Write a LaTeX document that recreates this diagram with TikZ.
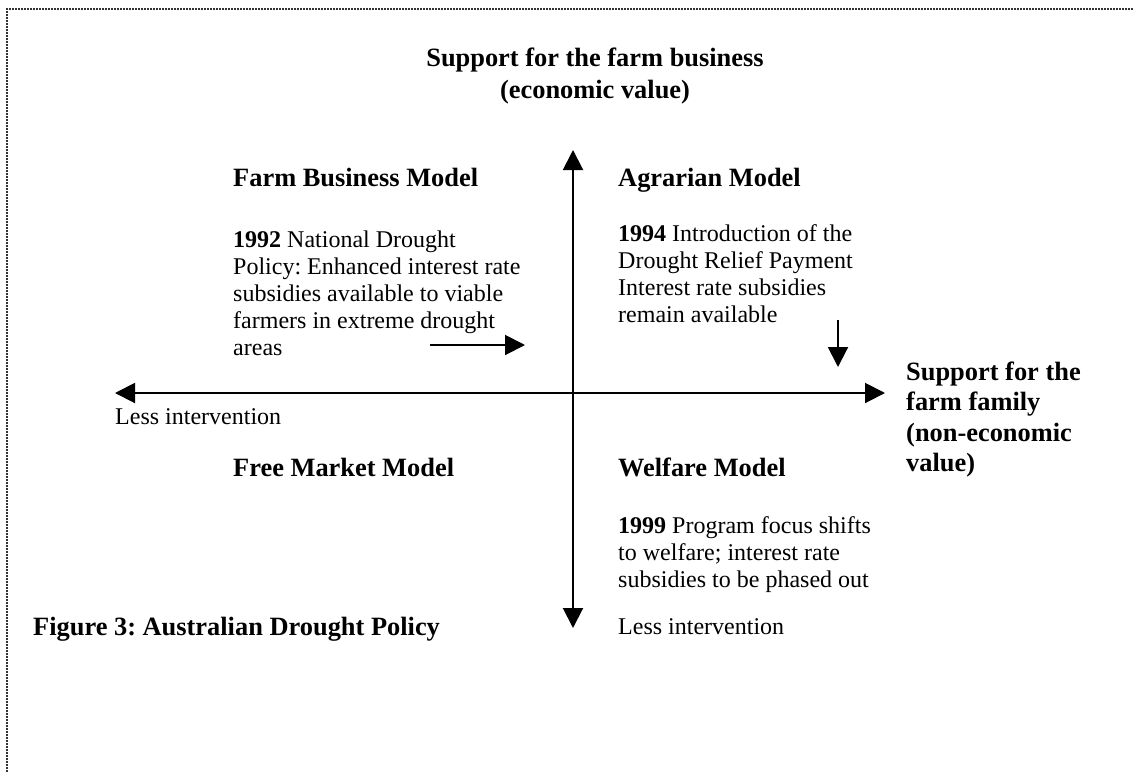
\documentclass[tikz,border=0pt]{standalone}
\usepackage{fontspec}
\setmainfont{Liberation Serif}
\usetikzlibrary{arrows.meta}
\frenchspacing
\begin{document}
\begin{tikzpicture}[x=1pt,y=-1pt,
  font=\fontsize{24}{27}\selectfont,
  para/.style={inner sep=0pt, anchor=north west, align=left, font=\fontsize{24}{27}\selectfont},
  hd/.style={inner sep=0pt, anchor=base west, font=\fontsize{26.4}{31}\selectfont\bfseries},
  txt/.style={inner sep=0pt, anchor=base west, font=\fontsize{24}{27}\selectfont},
  axis/.style={line width=2pt, {Triangle[length=20pt,width=20pt]}-{Triangle[length=20pt,width=20pt]}},
  shiftarrow/.style={line width=2pt, -{Triangle[length=20pt,width=20pt]}}]
\useasboundingbox (0,0) rectangle (1134,772);
% frame
\draw[line width=2pt, black!80, dash pattern=on 2pt off 1pt] (7,772) -- (7,9) -- (1134,9);

% axes
\coordinate (vtop) at (573,150);
\coordinate (vbot) at (573,628);
\coordinate (hleft) at (115,393);
\coordinate (hright) at (885,393);
\draw[axis] (vbot) -- (vtop);
\draw[axis] (hleft) -- (hright);

% title
\node[inner sep=0pt, anchor=north, align=center, font=\fontsize{26.4}{32}\selectfont\bfseries] (title) at (595,44)
  {\strut Support for the farm business\\(economic value)};

% quadrant headings
\node[hd] (fbm) at (233,186) {Farm Business Model};
\node[hd] (agm) at (618,186) {Agrarian Model};
\node[hd] (fmm) at (233,476) {Free Market Model};
\node[hd] (wfm) at (618,476) {Welfare Model};

% paragraphs
\node[para] (p92) at (233,228.6) {\strut\textbf{1992} National Drought\\Policy: Enhanced interest rate\\subsidies available to viable\\farmers in extreme drought\\areas};
\node[para] (p94) at (618,222.6) {\strut\textbf{1994} Introduction of the\\Drought Relief Payment\\Interest rate subsidies\\remain available};
\node[para] (p99) at (618,514.6) {\strut\textbf{1999} Program focus shifts\\to welfare; interest rate\\subsidies to be phased out};

% axis labels
\node[inner sep=0pt, anchor=north west, align=left, font=\fontsize{26.4}{30.5}\selectfont\bfseries] (fam) at (906,358.6)
  {\strut Support for the\\farm family\\(non-economic\\value)};
\node[txt] (lil) at (115,424.5) {Less intervention};
\node[txt] (lib) at (618,634) {Less intervention};
\node[hd] (fig) at (33,635) {Figure 3: Australian Drought Policy};

% shift arrows
\coordinate (a1s) at (430,345);
\coordinate (a1e) at (525,345);
\coordinate (a2s) at (838,320);
\coordinate (a2e) at (838,367);
\draw[shiftarrow] (a1s) -- (a1e);
\draw[shiftarrow] (a2s) -- (a2e);
\end{tikzpicture}
\end{document}
